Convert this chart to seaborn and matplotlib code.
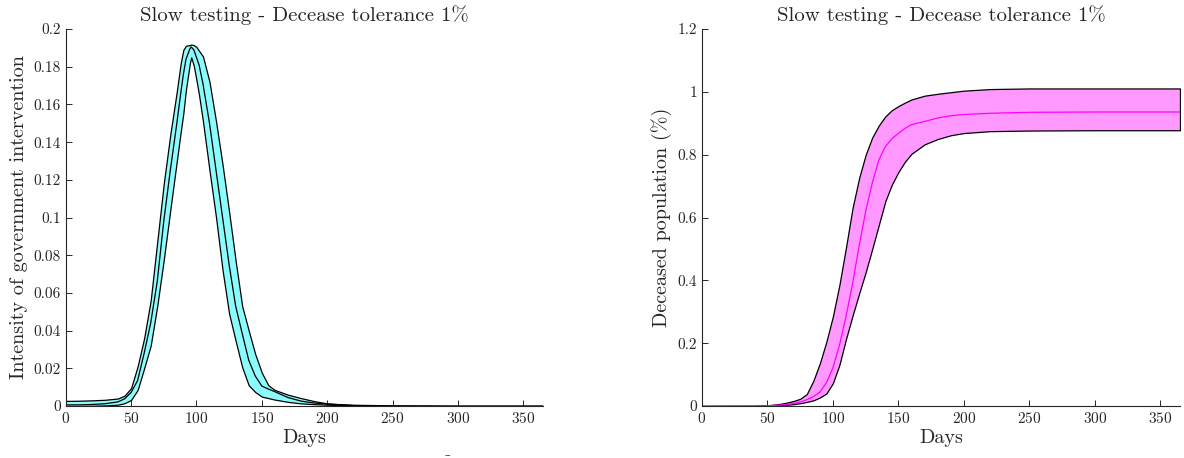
import numpy as np
import pandas as pd
import seaborn as sns
import matplotlib.pyplot as plt
from matplotlib.ticker import FormatStrFormatter

# Left panel: intensity of government intervention (band + central curve)
days_l = [0, 10, 20, 30, 40, 45, 50, 55, 60, 65, 70, 75, 80, 85, 88, 90, 92, 95, 96,
          98, 100, 102, 105, 110, 115, 120, 125, 130, 135, 140, 145, 150, 155, 160,
          170, 180, 190, 200, 220, 250, 300, 365]
interv_hi = [0.0027, 0.0028, 0.003, 0.0033, 0.004, 0.0055, 0.0095, 0.021, 0.036, 0.056,
             0.087, 0.118, 0.144, 0.167, 0.182, 0.189, 0.1912, 0.1915, 0.1918, 0.1915,
             0.1905, 0.1885, 0.1855, 0.172, 0.151, 0.128, 0.103, 0.077, 0.053, 0.04,
             0.0275, 0.0177, 0.011, 0.0085, 0.006, 0.0042, 0.0026, 0.0014, 0.0005,
             0.0001, 0.0, 0.0]
interv_mid = [0.0006, 0.0006, 0.0008, 0.0012, 0.0022, 0.0038, 0.0072, 0.0135, 0.028, 0.044,
              0.066, 0.098, 0.125, 0.15, 0.166, 0.176, 0.184, 0.1895, 0.1905, 0.189,
              0.185, 0.181, 0.171, 0.15, 0.125, 0.1, 0.075, 0.053, 0.0385, 0.0243,
              0.0159, 0.0106, 0.009, 0.0076, 0.0045, 0.0026, 0.0016, 0.001, 0.0004,
              0.0001, 0.0, 0.0]
interv_lo = [0.0, 0.0, 0.0001, 0.0003, 0.0007, 0.0015, 0.0032, 0.0085, 0.02, 0.032,
             0.053, 0.0775, 0.104, 0.13, 0.1456, 0.1554, 0.168, 0.182, 0.185, 0.1805,
             0.173, 0.165, 0.151, 0.125, 0.1, 0.072, 0.049, 0.0345, 0.0206, 0.011,
             0.0074, 0.005, 0.0042, 0.0034, 0.0022, 0.0014, 0.001, 0.0007, 0.0003,
             0.0001, 0.0, 0.0]

# Right panel: deceased population (%)
days_r = [0, 40, 50, 60, 65, 70, 75, 80, 85, 90, 95, 100, 105, 110, 115, 120, 125,
          130, 135, 140, 145, 150, 155, 160, 170, 180, 190, 200, 220, 250, 300, 365]
dead_hi = [0.0, 0.0005, 0.002, 0.007, 0.011, 0.016, 0.023, 0.038, 0.08, 0.136, 0.205,
           0.286, 0.387, 0.506, 0.631, 0.726, 0.8, 0.855, 0.893, 0.922, 0.942, 0.955,
           0.966, 0.976, 0.988, 0.994, 0.999, 1.004, 1.009, 1.011, 1.011, 1.011]
dead_mid = [0.0, 0.0002, 0.0008, 0.003, 0.005, 0.008, 0.013, 0.02, 0.03, 0.044, 0.074,
            0.122, 0.194, 0.286, 0.39, 0.51, 0.62, 0.71, 0.783, 0.826, 0.851, 0.868,
            0.884, 0.896, 0.906, 0.917, 0.924, 0.928, 0.932, 0.935, 0.936, 0.936]
dead_lo = [0.0, 0.0001, 0.0005, 0.002, 0.004, 0.006, 0.009, 0.013, 0.018, 0.027, 0.04,
           0.073, 0.132, 0.214, 0.288, 0.358, 0.426, 0.5, 0.576, 0.652, 0.705, 0.745,
           0.778, 0.803, 0.833, 0.85, 0.862, 0.869, 0.875, 0.877, 0.878, 0.878]

title = "Slow testing - Decease tolerance 1%"

sns.set_style("ticks")
plt.rcParams["font.family"] = ["cmr10", "DejaVu Serif"]
plt.rcParams["axes.formatter.use_mathtext"] = True
plt.rcParams["axes.unicode_minus"] = False

fig = plt.figure(figsize=(11.84, 4.58), dpi=100)
ax1 = fig.add_axes([0.0555, 0.1135, 0.403, 0.823])
ax2 = fig.add_axes([0.5929, 0.1135, 0.4037, 0.823])

left = pd.DataFrame({"day": days_l, "hi": interv_hi, "mid": interv_mid, "lo": interv_lo})
right = pd.DataFrame({"day": days_r, "hi": dead_hi, "mid": dead_mid, "lo": dead_lo})

# bands drawn like MATLAB patches: light fill with black outline
ax1.fill_between(left["day"], left["lo"], left["hi"], facecolor="#8cfbfb",
                 edgecolor="black", linewidth=0.9)
sns.lineplot(data=left, x="day", y="mid", ax=ax1, color="black", linewidth=0.9)

ax2.fill_between(right["day"], right["lo"], right["hi"], facecolor="#ff99ff",
                 edgecolor="black", linewidth=0.9)
sns.lineplot(data=right, x="day", y="mid", ax=ax2, color="#ff00ff", linewidth=0.9)

ax1.set_ylim(0, 0.2)
ax1.set_yticks(np.arange(0, 0.201, 0.02))
ax1.set_ylabel("Intensity of government intervention", fontsize=14.5)
ax2.set_ylim(0, 1.2)
ax2.set_yticks(np.arange(0, 1.21, 0.2))
ax2.set_ylabel("Deceased population (%)", fontsize=14.5)

for ax in (ax1, ax2):
    ax.set_xlim(0, 365)
    ax.set_xticks(range(0, 351, 50))
    ax.set_xlabel("Days", fontsize=14.5, labelpad=2)
    ax.set_title(title, fontsize=15, pad=6)
    ax.yaxis.set_major_formatter(FormatStrFormatter("%g"))
    ax.tick_params(direction="in", length=4, width=0.7, labelsize=11, colors="#262626")
    for s in ("left", "bottom"):
        ax.spines[s].set_linewidth(0.8)
        ax.spines[s].set_color("#262626")
    sns.despine(ax=ax)

# small stray mark below the left panel in the original
fig.text(447 / 1184, 1 - 455 / 458, "\u2013", fontsize=8, ha="center", va="center")

fig.savefig("out.png", dpi=100)
